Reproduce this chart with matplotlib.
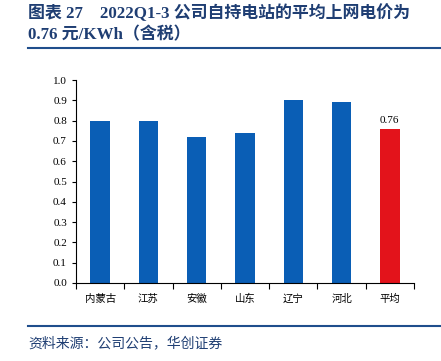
import matplotlib
matplotlib.use("Agg")
import matplotlib.pyplot as plt
import numpy as np

categories = ["内蒙古", "江苏", "安徽", "山东", "辽宁", "河北", "平均"]
values = [0.80, 0.80, 0.72, 0.74, 0.90, 0.89, 0.76]
yticks = [0.0, 0.1, 0.2, 0.3, 0.4, 0.5, 0.6, 0.7, 0.8, 0.9, 1.0]
avg_label = "0.76"

W, H = 441, 361
fig = plt.figure(figsize=(W/100, H/100), dpi=100)
ax = fig.add_axes([76/W, 1-283/H, (414-76)/W, (283-80)/H])

blue = "#0A5EB5"
red = "#E3131B"
colors = [blue]*6 + [red]
x = np.arange(len(categories))
ax.bar(x, values, width=0.4, color=colors)
ax.set_xlim(-0.5, len(categories)-0.5)
ax.set_ylim(0, 1.0)
ax.set_yticks(yticks)
ax.set_yticklabels([f"{v:.1f}" for v in yticks], family="Liberation Serif", fontsize=8)
ax.set_xticks(np.arange(len(categories)+1)-0.5)
ax.set_xticklabels([])
ax.set_xticks(x, minor=True)
ax.set_xticklabels(categories, minor=True, family="Noto Sans CJK SC", fontsize=7.5)
ax.tick_params(axis="x", which="minor", length=0, pad=8)
ax.tick_params(axis="x", which="major", length=4, direction="out", width=0.8)
ax.tick_params(axis="y", length=3, direction="out", width=0.8)
for s in ["top", "right"]:
    ax.spines[s].set_visible(False)
ax.text(x[-1], values[-1]+0.02, avg_label, ha="center", va="bottom",
        family="Liberation Serif", fontsize=8)

tcol = "#1F3E73"
fam = ["Liberation Serif", "Noto Sans CJK SC"]
fig.text(28/W, 1-13/H, "图表 27    2022Q1-3 公司自持电站的平均上网电价为", family=fam,
         fontweight="bold", fontsize=12.2, color=tcol, va="center", ha="left")
fig.text(28/W, 1-35/H, "0.76 元/KWh（含税）", family=fam,
         fontweight="bold", fontsize=12.2, color=tcol, va="center", ha="left")
fig.add_artist(plt.Line2D([28/W, 1], [1-47.5/H, 1-47.5/H], color="#1F4E8C", lw=1.5))
fig.add_artist(plt.Line2D([28/W, 1], [1-326/H, 1-326/H], color="#1F4E8C", lw=1.5))
fig.text(28/W, 1-343/H, "资料来源：公司公告，华创证券", family="Noto Sans CJK SC",
         fontsize=10, color=tcol, style="italic", va="center", ha="left")

fig.savefig("out.png", dpi=100)
